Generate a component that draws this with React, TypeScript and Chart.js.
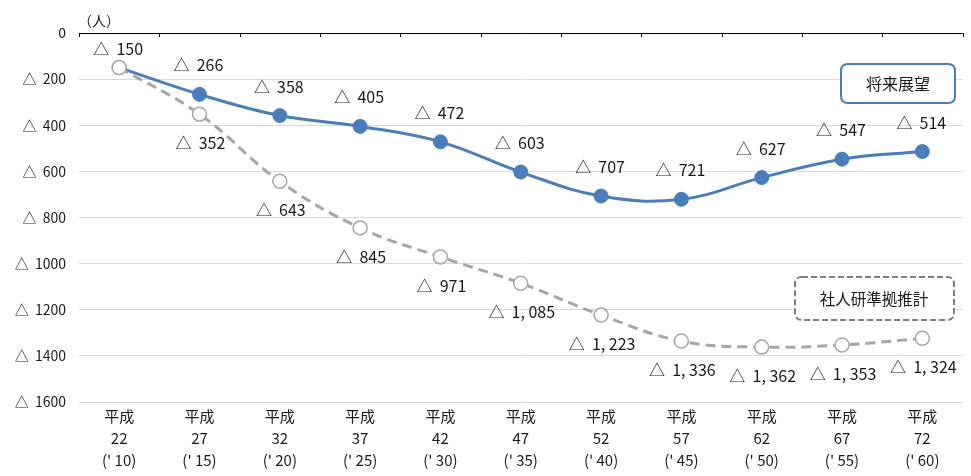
import React, { useEffect, useRef } from 'react';
import { Chart, registerables } from 'chart.js';

Chart.register(...registerables);

const eraLabels = ['平成', '平成', '平成', '平成', '平成', '平成', '平成', '平成', '平成', '平成', '平成'];
const eraYears = ['22', '27', '32', '37', '42', '47', '52', '57', '62', '67', '72'];
const westernYears = ["(' 10)", "(' 15)", "(' 20)", "(' 25)", "(' 30)", "(' 35)", "(' 40)", "(' 45)", "(' 50)", "(' 55)", "(' 60)"];
const outlookValues = [150, 266, 358, 405, 472, 603, 707, 721, 627, 547, 514];
const ipssValues = [150, 352, 643, 845, 971, 1085, 1223, 1336, 1362, 1353, 1324];
const yMin = 0;
const yMax = 1600;
const yStep = 200;
const outlookName = '将来展望';
const ipssName = '社人研準拠推計';
const unitLabel = '（人）';

const FONT = "'Noto Sans CJK JP', 'Noto Sans', sans-serif";
const TEXT = '#1a1a1a';
const BLUE = '#4a7ebb';
const GRAY = '#a6a6a6';

function fmtNum(n: number): string {
  if (n >= 1000) {
    const th = Math.floor(n / 1000);
    const rest = String(n % 1000).padStart(3, '0');
    return `△  ${th}, ${rest}`;
  }
  return `△  ${n}`;
}

function roundRect(ctx: CanvasRenderingContext2D, x: number, y: number, w: number, h: number, r: number) {
  ctx.beginPath();
  ctx.moveTo(x + r, y);
  ctx.lineTo(x + w - r, y);
  ctx.quadraticCurveTo(x + w, y, x + w, y + r);
  ctx.lineTo(x + w, y + h - r);
  ctx.quadraticCurveTo(x + w, y + h, x + w - r, y + h);
  ctx.lineTo(x + r, y + h);
  ctx.quadraticCurveTo(x, y + h, x, y + h - r);
  ctx.lineTo(x, y + r);
  ctx.quadraticCurveTo(x, y, x + r, y);
  ctx.closePath();
}

const decorPlugin = {
  id: 'decor',
  afterDraw(chart: any) {
    const ctx: CanvasRenderingContext2D = chart.ctx;
    const xs = chart.scales.x;
    const ys = chart.scales.y;
    const area = chart.chartArea;
    ctx.save();

    // zero axis line with ticks
    const y0 = ys.getPixelForValue(0);
    ctx.strokeStyle = '#000';
    ctx.lineWidth = 1;
    ctx.beginPath();
    ctx.moveTo(area.left, y0 + 0.5);
    ctx.lineTo(area.right, y0 + 0.5);
    const n = outlookValues.length;
    const step = xs.getPixelForValue(1) - xs.getPixelForValue(0);
    for (let i = 0; i <= n; i++) {
      const x = Math.round(xs.getPixelForValue(0) - step / 2 + i * step) + 0.5;
      ctx.moveTo(x, y0);
      ctx.lineTo(x, y0 + 4);
    }
    ctx.stroke();

    // data labels
    ctx.fillStyle = TEXT;
    ctx.font = `16px ${FONT}`;
    ctx.textAlign = 'center';
    ctx.textBaseline = 'middle';
    const mBlue = chart.getDatasetMeta(1);
    mBlue.data.forEach((pt: any, i: number) => {
      const off = i === 0 ? -19 : -29;
      ctx.fillText(fmtNum(outlookValues[i]), pt.x - 1, pt.y + off);
    });
    const mGray = chart.getDatasetMeta(0);
    mGray.data.forEach((pt: any, i: number) => {
      if (i === 0) return;
      ctx.fillText(fmtNum(ipssValues[i]), pt.x + 1, pt.y + 29);
    });

    // unit label
    ctx.font = `14px ${FONT}`;
    ctx.fillText(unitLabel, 99, 21);

    // legend box: outlook
    ctx.setLineDash([]);
    roundRect(ctx, 841, 64, 114, 39, 7);
    ctx.fillStyle = '#fff';
    ctx.fill();
    ctx.strokeStyle = BLUE;
    ctx.lineWidth = 2;
    ctx.stroke();
    ctx.fillStyle = TEXT;
    ctx.font = `16px ${FONT}`;
    ctx.fillText(outlookName, 898, 84);

    // legend box: ipss
    roundRect(ctx, 795, 277, 159, 43, 7);
    ctx.fillStyle = '#fff';
    ctx.fill();
    ctx.strokeStyle = '#7f7f7f';
    ctx.lineWidth = 2;
    ctx.setLineDash([6, 3]);
    ctx.stroke();
    ctx.setLineDash([]);
    ctx.fillStyle = TEXT;
    ctx.font = `15.5px ${FONT}`;
    ctx.fillText(ipssName, 874, 299);

    ctx.restore();
  },
};

export default function App() {
  const ref = useRef<HTMLCanvasElement | null>(null);
  useEffect(() => {
    document.body.style.margin = '0';
    const labels = eraLabels.map((e, i) => [e, eraYears[i], westernYears[i]]);
    const chart = new Chart(ref.current as HTMLCanvasElement, {
      type: 'line',
      data: {
        labels,
        datasets: [
          {
            label: ipssName,
            data: ipssValues,
            borderColor: GRAY,
            borderWidth: 3,
            borderDash: [10, 6],
            tension: 0.4,
            pointRadius: 7,
            pointBorderWidth: 1.5,
            pointBackgroundColor: '#fff',
            pointBorderColor: GRAY,
            order: 0,
          },
          {
            label: outlookName,
            data: outlookValues,
            borderColor: BLUE,
            borderWidth: 3,
            tension: 0.4,
            pointRadius: 7,
            pointBorderWidth: 1,
            pointBackgroundColor: BLUE,
            pointBorderColor: BLUE,
            order: 1,
          },
        ],
      },
      options: {
        responsive: false,
        animation: false,
        layout: { padding: { top: 33, right: 1, left: 0, bottom: 0 } },
        plugins: { legend: { display: false }, tooltip: { enabled: false } },
        scales: {
          x: {
            type: 'category',
            offset: true,
            grid: { display: false, drawTicks: false },
            border: { display: false },
            ticks: {
              padding: 3,
              color: TEXT,
              font: { family: FONT, size: 15, lineHeight: '22px' } as any,
              maxRotation: 0,
              autoSkip: false,
            },
            afterFit: (s: any) => { s.height = 74; },
          },
          y: {
            reverse: true,
            min: yMin,
            max: yMax,
            grid: {
              drawTicks: false,
              color: (c: any) => (c.tick && c.tick.value === 0 ? 'rgba(0,0,0,0)' : '#d9d9d9'),
              lineWidth: 1,
            },
            border: { display: false },
            ticks: {
              stepSize: yStep,
              padding: 13,
              color: TEXT,
              font: { family: FONT, size: 14 },
              callback: (v: any) => (Number(v) === 0 ? '0' : `△  ${v}`),
            },
            afterFit: (s: any) => { s.width = 79; },
          },
        },
      },
      plugins: [decorPlugin],
    });
    return () => chart.destroy();
  }, []);
  return (
    <div style={{ width: 971, height: 476 }}>
      <canvas ref={ref} width={971} height={476} style={{ display: 'block' }} />
    </div>
  );
}
